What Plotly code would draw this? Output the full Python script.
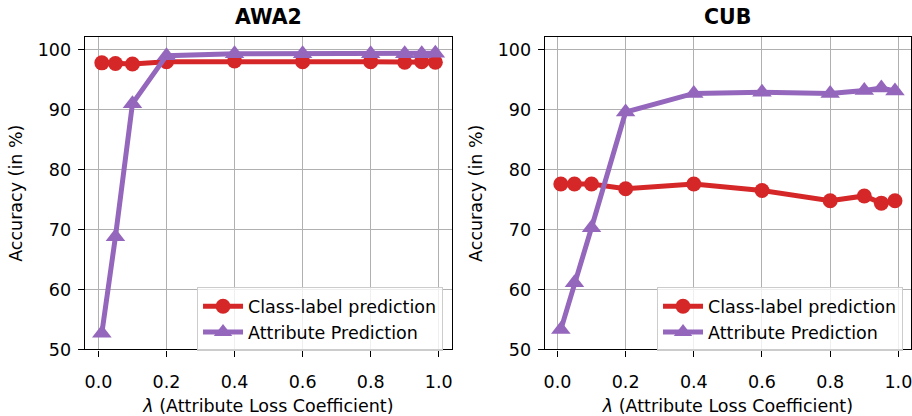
import plotly.graph_objects as go

# lambda values (attribute loss coefficient)
lam = [0.01, 0.05, 0.1, 0.2, 0.4, 0.6, 0.8, 0.9, 0.95, 0.99]

# AWA2 accuracies (%)
awa2_class = [97.8, 97.7, 97.6, 98.0, 98.1, 98.0, 98.0, 97.9, 98.0, 97.9]
awa2_attr = [52.7, 68.8, 91.0, 99.0, 99.3, 99.3, 99.3, 99.3, 99.3, 99.4]

# CUB accuracies (%)
cub_class = [77.6, 77.6, 77.6, 76.8, 77.6, 76.5, 74.8, 75.6, 74.4, 74.8]
cub_attr = [53.3, 61.1, 70.3, 89.6, 92.7, 92.9, 92.7, 93.2, 93.6, 93.1]

titles = ["AWA2", "CUB"]
yticks = [50, 60, 70, 80, 90, 100]
xticks = [0.0, 0.2, 0.4, 0.6, 0.8, 1.0]

RED = "#d62728"
PURPLE = "#9467bd"
FONT = "DejaVu Sans"
FS = 17.5
W, H = 912, 416

fig = go.Figure()

panels = [
    (awa2_class, awa2_attr, "x", "y", "legend"),
    (cub_class, cub_attr, "x2", "y2", "legend2"),
]
for cls, att, xa, ya, lg in panels:
    fig.add_trace(go.Scatter(
        x=lam, y=cls, mode="lines+markers", name="Class-label prediction",
        line=dict(color=RED, width=5),
        marker=dict(symbol="circle", size=15, color=RED),
        xaxis=xa, yaxis=ya, legend=lg,
    ))
    fig.add_trace(go.Scatter(
        x=lam, y=att, mode="lines+markers", name="Attribute Prediction",
        line=dict(color=PURPLE, width=5),
        marker=dict(symbol="triangle-up", size=17, color=PURPLE),
        xaxis=xa, yaxis=ya, legend=lg,
    ))

ytop = 1 - 38 / H
ybot = 1 - 358 / H
xdoms = [[84 / W, 452 / W], [545 / W, 1.0]]
xranges = [[-0.040, 1.039], [-0.037, 1.037]]

axis_common = dict(
    showline=True, linecolor="black", linewidth=1.4, mirror=True,
    ticks="outside", ticklen=6, tickwidth=1.4, tickcolor="black",
    showgrid=True, gridcolor="#b0b0b0", gridwidth=1.4,
    zeroline=False, ticklabeloverflow="allow",
    tickfont=dict(family=FONT, size=FS, color="black"),
)

layout = dict(
    width=W, height=H,
    margin=dict(l=0, r=0, t=0, b=0),
    paper_bgcolor="white", plot_bgcolor="white",
    font=dict(family=FONT, color="black"),
    showlegend=True,
)

for i in range(2):
    sx = "" if i == 0 else str(i + 1)
    layout["xaxis" + sx] = dict(
        axis_common, domain=xdoms[i], range=xranges[i],
        tickvals=xticks, ticktext=[f"{v:.1f}" for v in xticks],
        anchor="y" + sx, ticklabelstandoff=10,
        title=dict(text="<i>λ</i> (Attribute Loss Coefficient)",
                   font=dict(family=FONT, size=FS), standoff=10),
    )
    layout["yaxis" + sx] = dict(
        axis_common, domain=[ybot, ytop], range=[50, 102.1],
        tickvals=yticks, anchor="x" + sx, ticklabelstandoff=3,
        title=dict(text="Accuracy (in %)",
                   font=dict(family=FONT, size=FS), standoff=10),
    )

legend_common = dict(
    bgcolor="rgba(255,255,255,0.8)", bordercolor="#cccccc", borderwidth=1,
    font=dict(family=FONT, size=FS, color="black"),
    xanchor="right", yanchor="bottom", tracegroupgap=0,
    itemwidth=40,
)
layout["legend"] = dict(legend_common, x=443 / W, y=1 - 360 / H)
layout["legend2"] = dict(legend_common, x=904 / W, y=1 - 360 / H)

fig.update_layout(**layout)

# subplot titles
centers = [(84 + 452) / 2 / W, (545 + 912) / 2 / W]
for t, cx in zip(titles, centers):
    fig.add_annotation(
        text=f"<b>{t}</b>", x=cx, y=1 - 17 / H, xref="paper", yref="paper",
        showarrow=False, font=dict(family=FONT, size=20.5, color="black"),
        xanchor="center", yanchor="middle",
    )

fig.write_html("out.html")
